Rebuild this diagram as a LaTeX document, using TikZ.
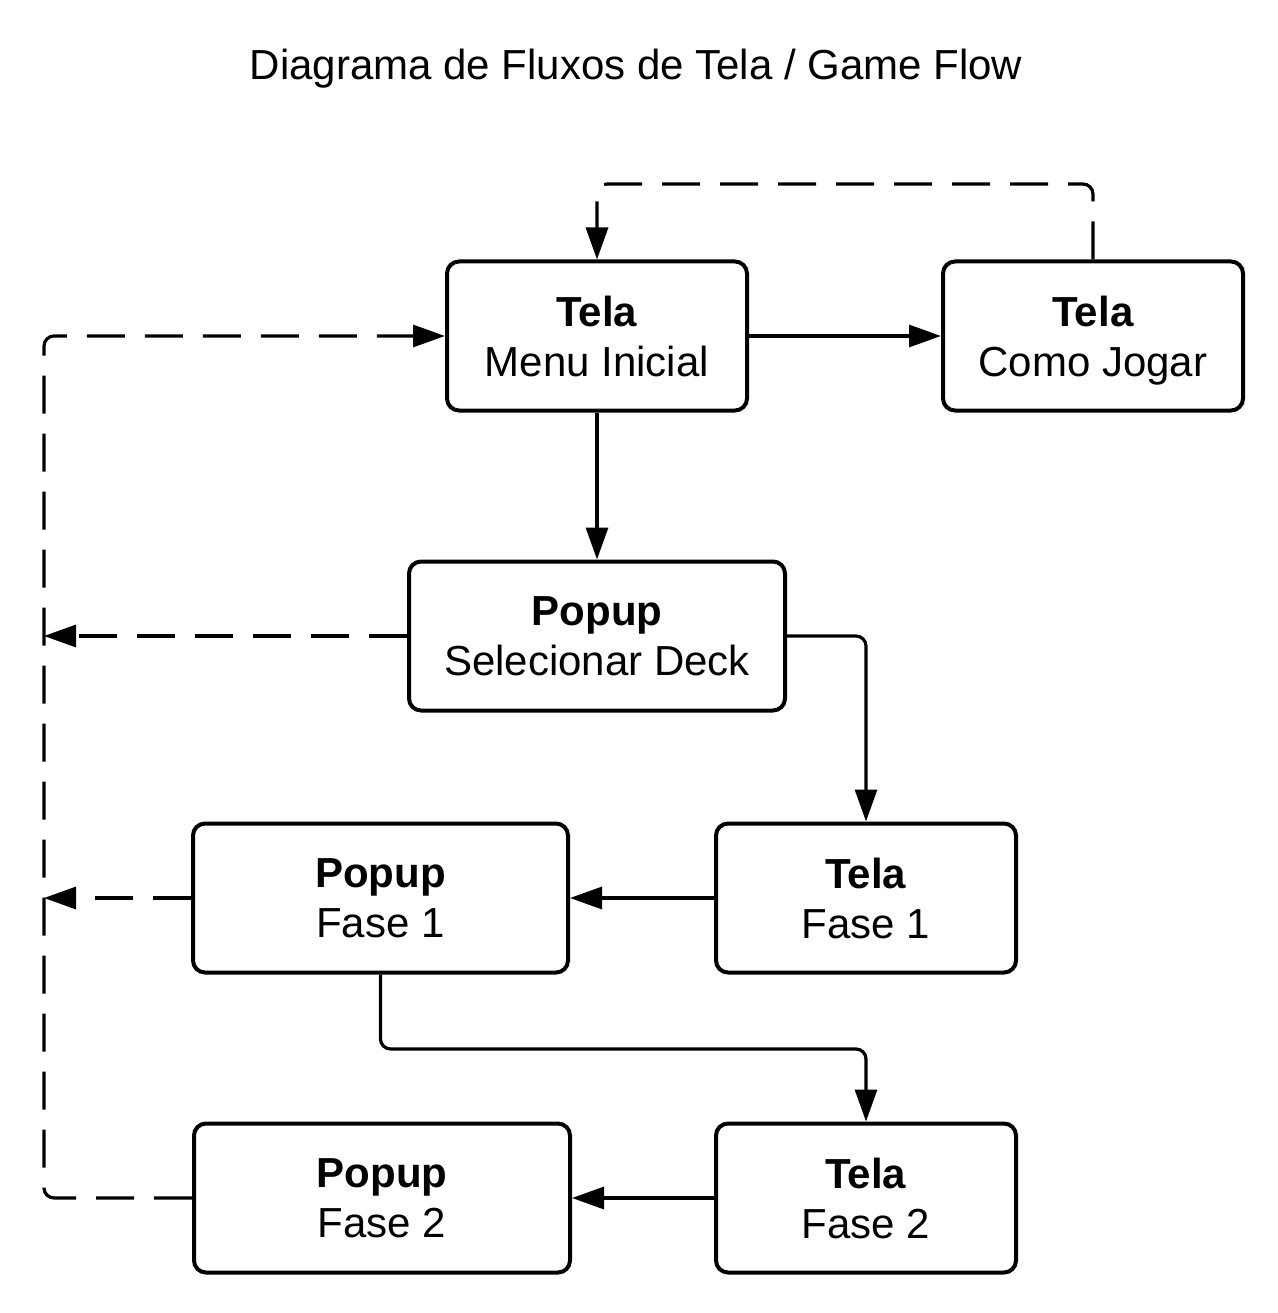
\documentclass[tikz,border=0pt]{standalone}
\usepackage{fontspec}
\setmainfont{Liberation Sans}
\usetikzlibrary{arrows.meta}
\newcommand{\lastln}[1]{\smash{#1}}
\tikzset{
  box/.style={draw, line width=4pt, rounded corners=12pt, minimum height=149pt, align=center, inner sep=0pt,
    font=\fontsize{42}{50}\selectfont},
  conn/.style={line width=3.2pt, rounded corners=10pt, -{Triangle[length=32pt,width=22pt]}},
  dconn/.style={conn, dash pattern=on 38pt off 20pt},
}
\begin{document}
\begin{tikzpicture}[x=1pt,y=-1pt]
\useasboundingbox (0,0) rectangle (1277,1313);
\node[font=\fontsize{42}{50}\selectfont] (title) at (636,69) {Diagrama de Fluxos de Tela / Game Flow};
\node[box, minimum width=300pt] (menu) at (597,336) {\textbf{Tela}\\\lastln{Menu Inicial}};
\node[box, minimum width=300pt] (como) at (1093,336) {\textbf{Tela}\\\lastln{Como Jogar}};
\node[box, minimum width=376pt] (sel) at (597,636) {\textbf{Popup}\\\lastln{Selecionar Deck}};
\node[box, minimum width=300pt] (tf1) at (866,898) {\textbf{Tela}\\\lastln{Fase 1}};
\node[box, minimum width=375pt] (pf1) at (380.5,898) {\textbf{Popup}\\\lastln{Fase 1}};
\node[box, minimum width=300pt] (tf2) at (866,1198) {\textbf{Tela}\\\lastln{Fase 2}};
\node[box, minimum width=376pt] (pf2) at (382,1198) {\textbf{Popup}\\\lastln{Fase 2}};
\coordinate (L) at (44,336);
\coordinate (T) at (597,184);
\coordinate (M2) at (866,1049);
\draw[conn] (menu.east) -- (como.west);
\draw[conn] (menu.south) -- (sel.north);
\draw[conn] (sel.east) -| (tf1.north);
\draw[conn] (tf1.west) -- (pf1.east);
\draw[conn] (pf1.south) |- (M2) -- (tf2.north);
\draw[conn] (tf2.west) -- (pf2.east);
\draw[dconn] (como.north) |- (T) -- (menu.north);
\draw[dconn] (sel.west) -- (sel.west -| L);
\draw[dconn] (pf1.west) -- (pf1.west -| L);
\draw[dconn] (pf2.west) -| (L) -- (menu.west);
\end{tikzpicture}
\end{document}
